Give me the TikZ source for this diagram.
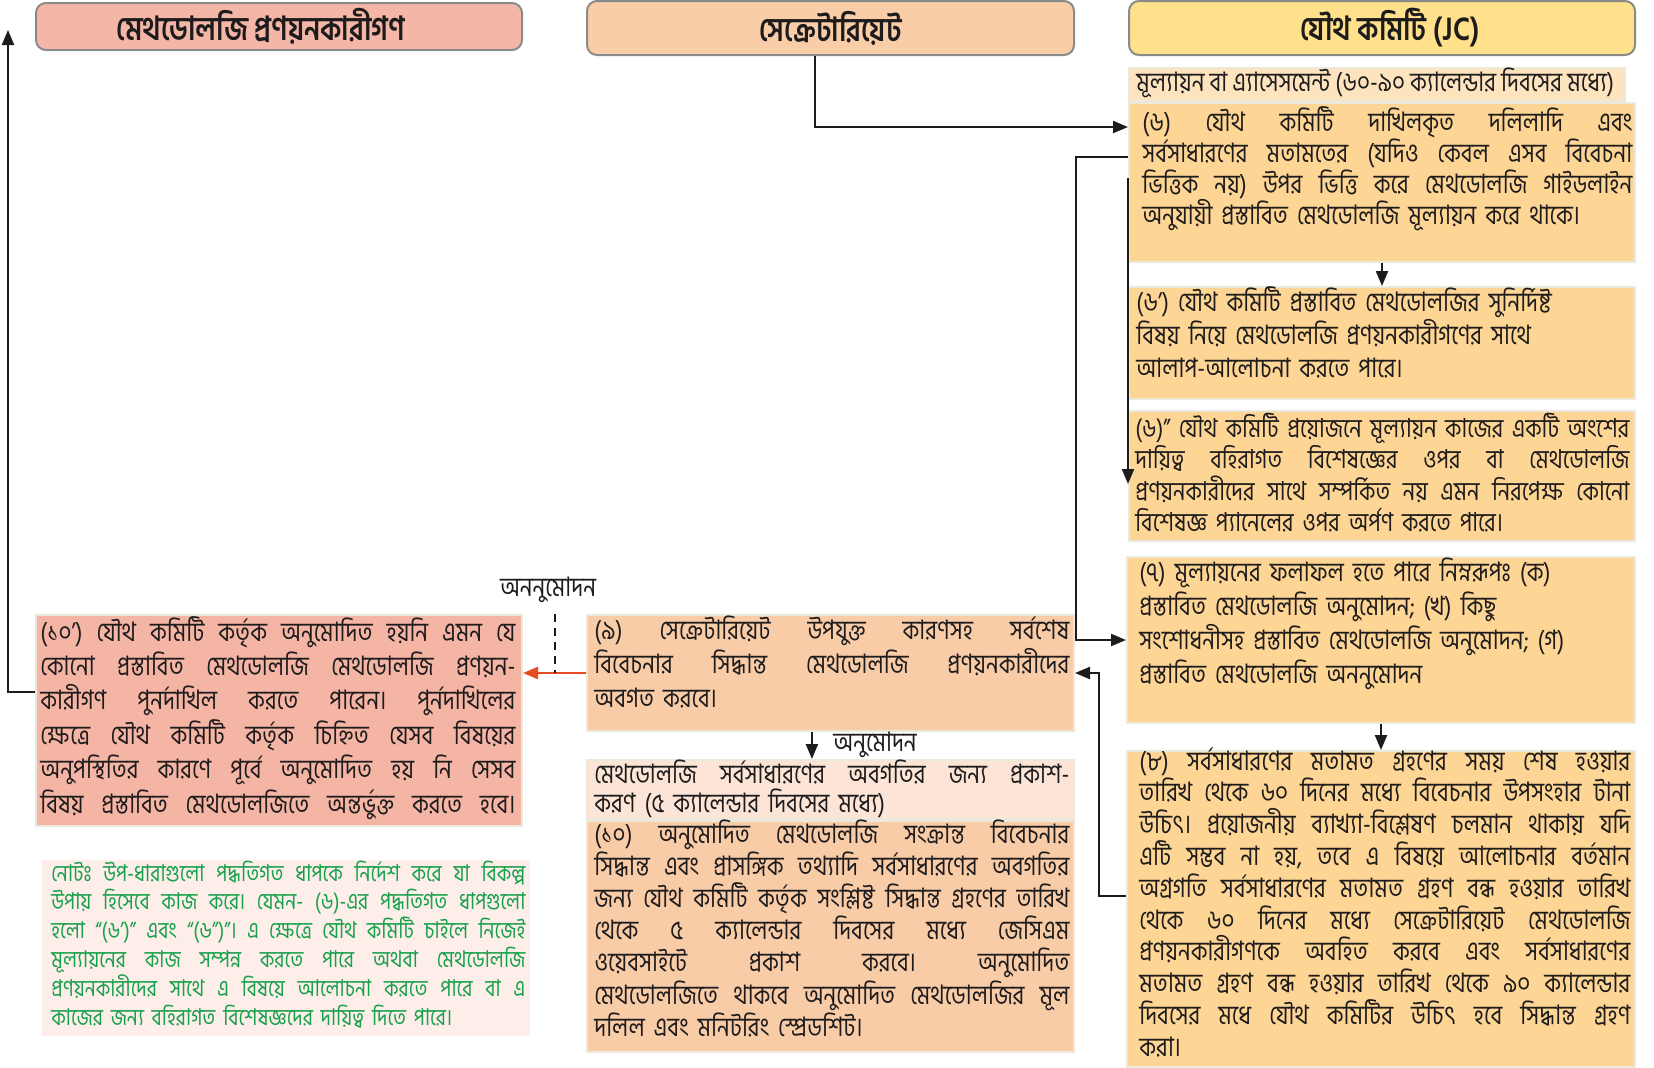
\documentclass[tikz,border=0pt]{standalone}
\usepackage{fontspec}
\setmainfont[Script=Bengali, FakeStretch=0.84]{Hind Siliguri}
\usetikzlibrary{arrows.meta,calc,fit}
\definecolor{hLfill}{HTML}{F4B6A6}
\definecolor{hMfill}{HTML}{F9CDA8}
\definecolor{hRfill}{HTML}{FEE18A}
\definecolor{subfill}{HTML}{FDE4BF}
\definecolor{jcfill}{HTML}{FDD594}
\definecolor{secfill}{HTML}{F9CCA8}
\definecolor{pubfill}{HTML}{FCE5D6}
\definecolor{redfill}{HTML}{F5B5A5}
\definecolor{notefill}{HTML}{FDEEE9}
\definecolor{notegreen}{HTML}{16A04B}
\definecolor{redarrow}{HTML}{E84C22}
\definecolor{hdrborder}{HTML}{8A8A8A}
\definecolor{boxborder}{HTML}{ECE8DC}
\definecolor{textcol}{HTML}{1E1B1C}
\newlength\jlw
\ExplSyntaxOn
\NewDocumentCommand\jl{m}{
  \seq_set_split:Nnn \l_tmpa_seq {~} {#1}
  \mode_leave_vertical:
  \hbox_to_wd:nn {\jlw} { \seq_use:Nn \l_tmpa_seq { \hskip 0.18em plus 1fill \relax } }
}
\ExplSyntaxOff
\newcommand\bfz[2]{\fontsize{#1}{#2}\selectfont\lineskiplimit=-50pt\lineskip=0pt}
\begin{document}
\begin{tikzpicture}[x=0.5pt,y=-0.5pt,
  box/.style={draw=boxborder, line width=1pt, inner sep=0pt},
  hdr/.style={draw=hdrborder, line width=1pt, rounded corners=5pt, inner sep=0pt},
  hdrtxt/.style={inner sep=0pt, text=textcol, font=\bfseries\bfz{16.6}{19}},
  txt/.style={anchor=base west, inner sep=0pt, align=left, text=textcol},
  txtw/.style={txt, text width=#1, execute at begin node={\global\jlw=#1\relax}},
  arr/.style={-{Triangle[length=7.5pt,width=6pt]}, line width=1.1pt, draw=textcol},
  redarr/.style={-{Triangle[length=7.5pt,width=6pt]}, line width=1.2pt, draw=redarrow, fill=redarrow},
  lbl/.style={inner sep=0pt, text=textcol, font=\bfz{13.4}{15}}
]
\useasboundingbox (0,0) rectangle (1654,1067);

% headers
\node[hdr, fill=hLfill, fit={(36,3) (522,50)}] (hL) {};
\node[hdrtxt] (hLt) at ([xshift=-9pt]hL.center) {মেথডোলজি প্রণয়নকারীগণ};
\node[hdr, fill=hMfill, fit={(587,1) (1074,55)}] (hM) {};
\node[hdrtxt] (hMt) at (hM.center) {সেক্রেটারিয়েট};
\node[hdr, fill=hRfill, fit={(1129,1) (1635,55)}] (hR) {};
\node[hdrtxt] (hRt) at ([xshift=4pt]hR.center) {যৌথ কমিটি (JC)};

% right column
\node[box, fill=subfill, fit={(1129,68) (1625,101)}] (sb) {};
\node[txt, font=\bfz{13.4}{15.5}] (sbt) at (1136,91) {মূল্যায়ন বা এ্যাসেসমেন্ট (৬০-৯০ ক্যালেন্ডার দিবসের মধ্যে)};

\node[box, fill=jcfill, fit={(1129,103) (1635,262)}] (b6) {};
\node[txtw=245pt, font=\bfz{13.4}{15.5}] (b6t) at (1142,131) {%
\jl{(৬) যৌথ কমিটি দাখিলকৃত দলিলাদি এবং}\\
\jl{সর্বসাধারণের মতামতের (যদিও কেবল এসব বিবেচনা}\\
\jl{ভিত্তিক নয়) উপর ভিত্তি করে মেথডোলজি গাইডলাইন}\\
অনুযায়ী প্রস্তাবিত মেথডোলজি মূল্যায়ন করে থাকে।};

\node[box, fill=jcfill, fit={(1129,287) (1635,399)}] (b6p) {};
\node[txt, text width=245pt, font=\bfz{13.4}{16.5}] (b6pt) at (1136,311) {%
(৬’) যৌথ কমিটি প্রস্তাবিত মেথডোলজির সুনির্দিষ্ট\\
বিষয় নিয়ে মেথডোলজি প্রণয়নকারীগণের সাথে\\
আলাপ-আলোচনা করতে পারে।};

\node[box, fill=jcfill, fit={(1129,411) (1635,541)}] (b6pp) {};
\node[txtw=247pt, font=\bfz{13.1}{15.8}] (b6ppt) at (1135,437) {%
\jl{(৬)” যৌথ কমিটি প্রয়োজনে মূল্যায়ন কাজের একটি অংশের}\\
\jl{দায়িত্ব বহিরাগত বিশেষজ্ঞের ওপর বা মেথডোলজি}\\
\jl{প্রণয়নকারীদের সাথে সম্পর্কিত নয় এমন নিরপেক্ষ কোনো}\\
বিশেষজ্ঞ প্যানেলের ওপর অর্পণ করতে পারে।};

\node[box, fill=jcfill, fit={(1127,557) (1635,723)}] (b7) {};
\node[txt, text width=245pt, font=\bfz{13.4}{17}] (b7t) at (1139,581) {%
(৭) মূল্যায়নের ফলাফল হতে পারে নিম্নরূপঃ (ক)\\
প্রস্তাবিত মেথডোলজি অনুমোদন; (খ) কিছু\\
সংশোধনীসহ প্রস্তাবিত মেথডোলজি অনুমোদন; (গ)\\
প্রস্তাবিত মেথডোলজি অননুমোদন};

\node[box, fill=jcfill, fit={(1127,751) (1635,1067)}] (b8) {};
\node[txtw=245.5pt, font=\bfz{13.4}{15.9}] (b8t) at (1139,770) {%
\jl{(৮) সর্বসাধারণের মতামত গ্রহণের সময় শেষ হওয়ার}\\
\jl{তারিখ থেকে ৬০ দিনের মধ্যে বিবেচনার উপসংহার টানা}\\
\jl{উচিৎ। প্রয়োজনীয় ব্যাখ্যা-বিশ্লেষণ চলমান থাকায় যদি}\\
\jl{এটি সম্ভব না হয়, তবে এ বিষয়ে আলোচনার বর্তমান}\\
\jl{অগ্রগতি সর্বসাধারণের মতামত গ্রহণ বন্ধ হওয়ার তারিখ}\\
\jl{থেকে ৬০ দিনের মধ্যে সেক্রেটারিয়েট মেথডোলজি}\\
\jl{প্রণয়নকারীগণকে অবহিত করবে এবং সর্বসাধারণের}\\
\jl{মতামত গ্রহণ বন্ধ হওয়ার তারিখ থেকে ৯০ ক্যালেন্ডার}\\
\jl{দিবসের মধে যৌথ কমিটির উচিৎ হবে সিদ্ধান্ত গ্রহণ}\\
করা।};

% middle column
\node[box, fill=secfill, fit={(587,615) (1074,731)}] (b9) {};
\node[txtw=237.5pt, font=\bfz{13.4}{17}] (b9t) at (594,639) {%
\jl{(৯) সেক্রেটারিয়েট উপযুক্ত কারণসহ সর্বশেষ}\\
\jl{বিবেচনার সিদ্ধান্ত মেথডোলজি প্রণয়নকারীদের}\\
অবগত করবে।};

\node[box, fill=pubfill, fit={(587,760) (1074,819)}] (bpub) {};
\node[txtw=237.5pt, font=\bfz{13.4}{14.5}] (bpubt) at (594,783) {%
\jl{মেথডোলজি সর্বসাধারণের অবগতির জন্য প্রকাশ-}\\
করণ (৫ ক্যালেন্ডার দিবসের মধ্যে)};

\node[box, fill=secfill, fit={(587,821) (1074,1052)}] (b10) {};
\node[txtw=237.5pt, font=\bfz{13.4}{16.1}] (b10t) at (594,843) {%
\jl{(১০) অনুমোদিত মেথডোলজি সংক্রান্ত বিবেচনার}\\
\jl{সিদ্ধান্ত এবং প্রাসঙ্গিক তথ্যাদি সর্বসাধারণের অবগতির}\\
\jl{জন্য যৌথ কমিটি কর্তৃক সংশ্লিষ্ট সিদ্ধান্ত গ্রহণের তারিখ}\\
\jl{থেকে ৫ ক্যালেন্ডার দিবসের মধ্যে জেসিএম}\\
\jl{ওয়েবসাইটে প্রকাশ করবে। অনুমোদিত}\\
\jl{মেথডোলজিতে থাকবে অনুমোদিত মেথডোলজির মূল}\\
দলিল এবং মনিটরিং স্প্রেডশিট।};

% left column
\node[box, fill=redfill, fit={(36,615) (522,826)}] (bL) {};
\node[txtw=237.5pt, font=\bfz{13.4}{17.2}] (bLt) at (40,641) {%
\jl{(১০’) যৌথ কমিটি কর্তৃক অনুমোদিত হয়নি এমন যে}\\
\jl{কোনো প্রস্তাবিত মেথডোলজি মেথডোলজি প্রণয়ন-}\\
\jl{কারীগণ পুনর্দাখিল করতে পারেন। পুর্নদাখিলের}\\
\jl{ক্ষেত্রে যৌথ কমিটি কর্তৃক চিহ্নিত যেসব বিষয়ের}\\
\jl{অনুপস্থিতির কারণে পূর্বে অনুমোদিত হয় নি সেসব}\\
\jl{বিষয় প্রস্তাবিত মেথডোলজিতে অন্তর্ভুক্ত করতে হবে।}};

\node[box, draw=none, fill=notefill, fit={(42,860) (530,1036)}] (note) {};
\node[txtw=237pt, text=notegreen, font=\bfz{11.6}{14.4}] (notet) at (51,881) {%
\jl{নোটঃ উপ-ধারাগুলো পদ্ধতিগত ধাপকে নির্দেশ করে যা বিকল্প}\\
\jl{উপায় হিসেবে কাজ করে। যেমন- (৬)-এর পদ্ধতিগত ধাপগুলো}\\
\jl{হলো “(৬’)” এবং “(৬”)”। এ ক্ষেত্রে যৌথ কমিটি চাইলে নিজেই}\\
\jl{মূল্যায়নের কাজ সম্পন্ন করতে পারে অথবা মেথডোলজি}\\
\jl{প্রণয়নকারীদের সাথে এ বিষয়ে আলোচনা করতে পারে বা এ}\\
কাজের জন্য বহিরাগত বিশেষজ্ঞদের দায়িত্ব দিতে পারে।};

% connectors
\draw[arr] ($(hM.south west)!0.468!(hM.south east)$) |- ([yshift=-12.5pt]b6.north west);
\draw[arr] ([yshift=-27.5pt]b6.north west) -- ++(-26pt,0) |- (b7.west);
\draw[arr] ([yshift=-38pt]b6.north west) -- ([yshift=-37pt]b6pp.north west);
\draw[arr] (b6.south) -- (b6p.north);
\draw[arr] (b7.south) -- (b8.north);
\draw[arr] ([yshift=-73pt]b8.north west) -- ++(-13.5pt,0) |- (b9.east);
\coordinate (p9) at ($(b9.south west)!0.462!(b9.south east)$);
\draw[arr] (p9) -- (p9 |- bpub.north);
\node[lbl, anchor=west] (lok) at (833,745) {অনুমোদন};
\draw[redarr] (b9.west) -- (b9.west -| bL.east);
\node[lbl] (lno) at (548,590) {অননুমোদন};
\coordinate (dtop) at (555,614);
\draw[dashed, line width=0.9pt, draw=textcol, dash pattern=on 4pt off 3pt] (dtop) -- (dtop |- b9.west);
\coordinate (upend) at (8,30);
\draw[arr] ([yshift=-39pt]bL.north west) -| (upend);
\end{tikzpicture}
\end{document}
